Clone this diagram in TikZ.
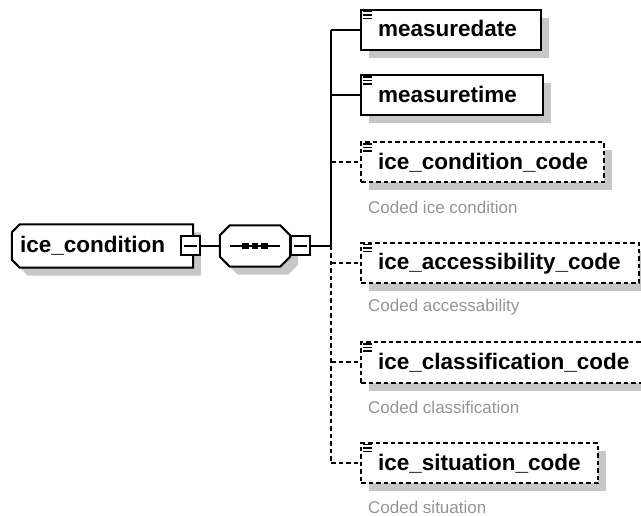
\documentclass[tikz,border=0pt]{standalone}
\usepackage{fontspec}
\setmainfont{Liberation Sans}
\usetikzlibrary{shadows}

\tikzset{
  boxshadow/.style={drop shadow={shadow xshift=8pt,shadow yshift=-8pt,fill=black!22,opacity=1}},
  namefont/.style={font=\bfseries\fontsize{22.5}{24}\selectfont},
  outline/.style={draw,line width=2pt,fill=white},
  elembox/.style={outline,boxshadow,anchor=west,
    minimum height=40pt,inner xsep=17pt,inner ysep=0pt,text height=19pt,text depth=5pt,namefont},
  optbox/.style={elembox,dash pattern=on 4.5pt off 3pt},
  note/.style={anchor=west,inner sep=0pt,text=black!42,font=\fontsize{17}{19}\selectfont},
  link/.style={line width=2pt},
  optlink/.style={link,dash pattern=on 4.5pt off 3pt},
  minusbox/.style={outline,minimum size=19pt,inner sep=0pt,
    path picture={\draw[line width=1.5pt] ([xshift=3pt]path picture bounding box.west) -- ([xshift=-3pt]path picture bounding box.east);}}
}

\begin{document}
\begin{tikzpicture}[x=1pt,y=-1pt]
\useasboundingbox (0,0) rectangle (641,516);
% root element, its left corners cut
\node[minimum width=181pt,minimum height=43pt,inner sep=0pt,text height=19pt,text depth=5pt,namefont]
  (root) at (102.5,246) {};
\path[outline,boxshadow] ([xshift=8pt]root.north west) -- (root.north east) -- (root.south east)
  -- ([xshift=8pt]root.south west) -- ([yshift=8pt]root.south west) -- ([yshift=-8pt]root.north west) -- cycle;
\node[namefont,inner sep=0pt,text height=19pt,text depth=5pt] (rootname) at (root.center) {\makebox[165pt][l]{ice\_condition}};
\node[minusbox] (rootminus) at (190,246) {};

% the sequence, all corners cut
\node[minimum width=70pt,minimum height=41pt,inner sep=0pt] (seq) at (255,246) {};
\path[outline,boxshadow] ([xshift=10pt]seq.north west) -- ([xshift=-10pt]seq.north east)
  -- ([yshift=-10pt]seq.north east) -- ([yshift=10pt]seq.south east) -- ([xshift=-10pt]seq.south east)
  -- ([xshift=10pt]seq.south west) -- ([yshift=10pt]seq.south west) -- ([yshift=-10pt]seq.north west) -- cycle;
\draw[line width=1.5pt] ([xshift=-25pt]seq.center) -- ([xshift=25pt]seq.center);
\foreach \dx in {-9.5,0,9.5}
  \fill ([xshift=\dx pt]seq.center) +(-3.3,-3.3) rectangle +(3.3,3.3);
\node[minusbox] (seqminus) at (300.5,246) {};
\coordinate (junc) at (331,246);

% child elements
\foreach \n/\y/\w/\txt/\kind in {c1/30/146/measuredate/elembox,
    c2/95.5/148/measuretime/elembox,
    c3/162.5/209/ice\_condition\_code/optbox,
    c4/263/244/ice\_accessibility\_code/optbox,
    c5/362.5/262/ice\_classification\_code/optbox,
    c6/463/203/ice\_situation\_code/optbox}
  \node[\kind] (\n) at (360,\y) {\makebox[\w pt][l]{\txt}};
\foreach \n in {c1,c2,c3,c4,c5,c6} % the little list icon
  \foreach \dy in {2.5,6,9.5}
    \draw[line width=1.5pt] ([shift={(3,\dy)}]\n.north west) -- ([shift={(12,\dy)}]\n.north west);

% notes
\node[note] (n3) at (368,207) {Coded ice condition};
\node[note] (n4) at (368,307) {Coded accessability};
\node[note] (n5) at (368,407) {Coded classification};
\node[note] (n6) at (368,507) {Coded situation};

% connectors
\draw[link] (rootminus) -- (seq);
\draw[link] (seqminus) -- (junc);
\draw[link] (junc |- c1.west) -- (junc);
\draw[optlink] (junc) -- (junc |- c6.west);
\foreach \n/\k in {c1/link,c2/link,c3/optlink,c4/optlink,c5/optlink,c6/optlink}
  \draw[\k] (junc |- \n.west) -- (\n.west);
\end{tikzpicture}
\end{document}
